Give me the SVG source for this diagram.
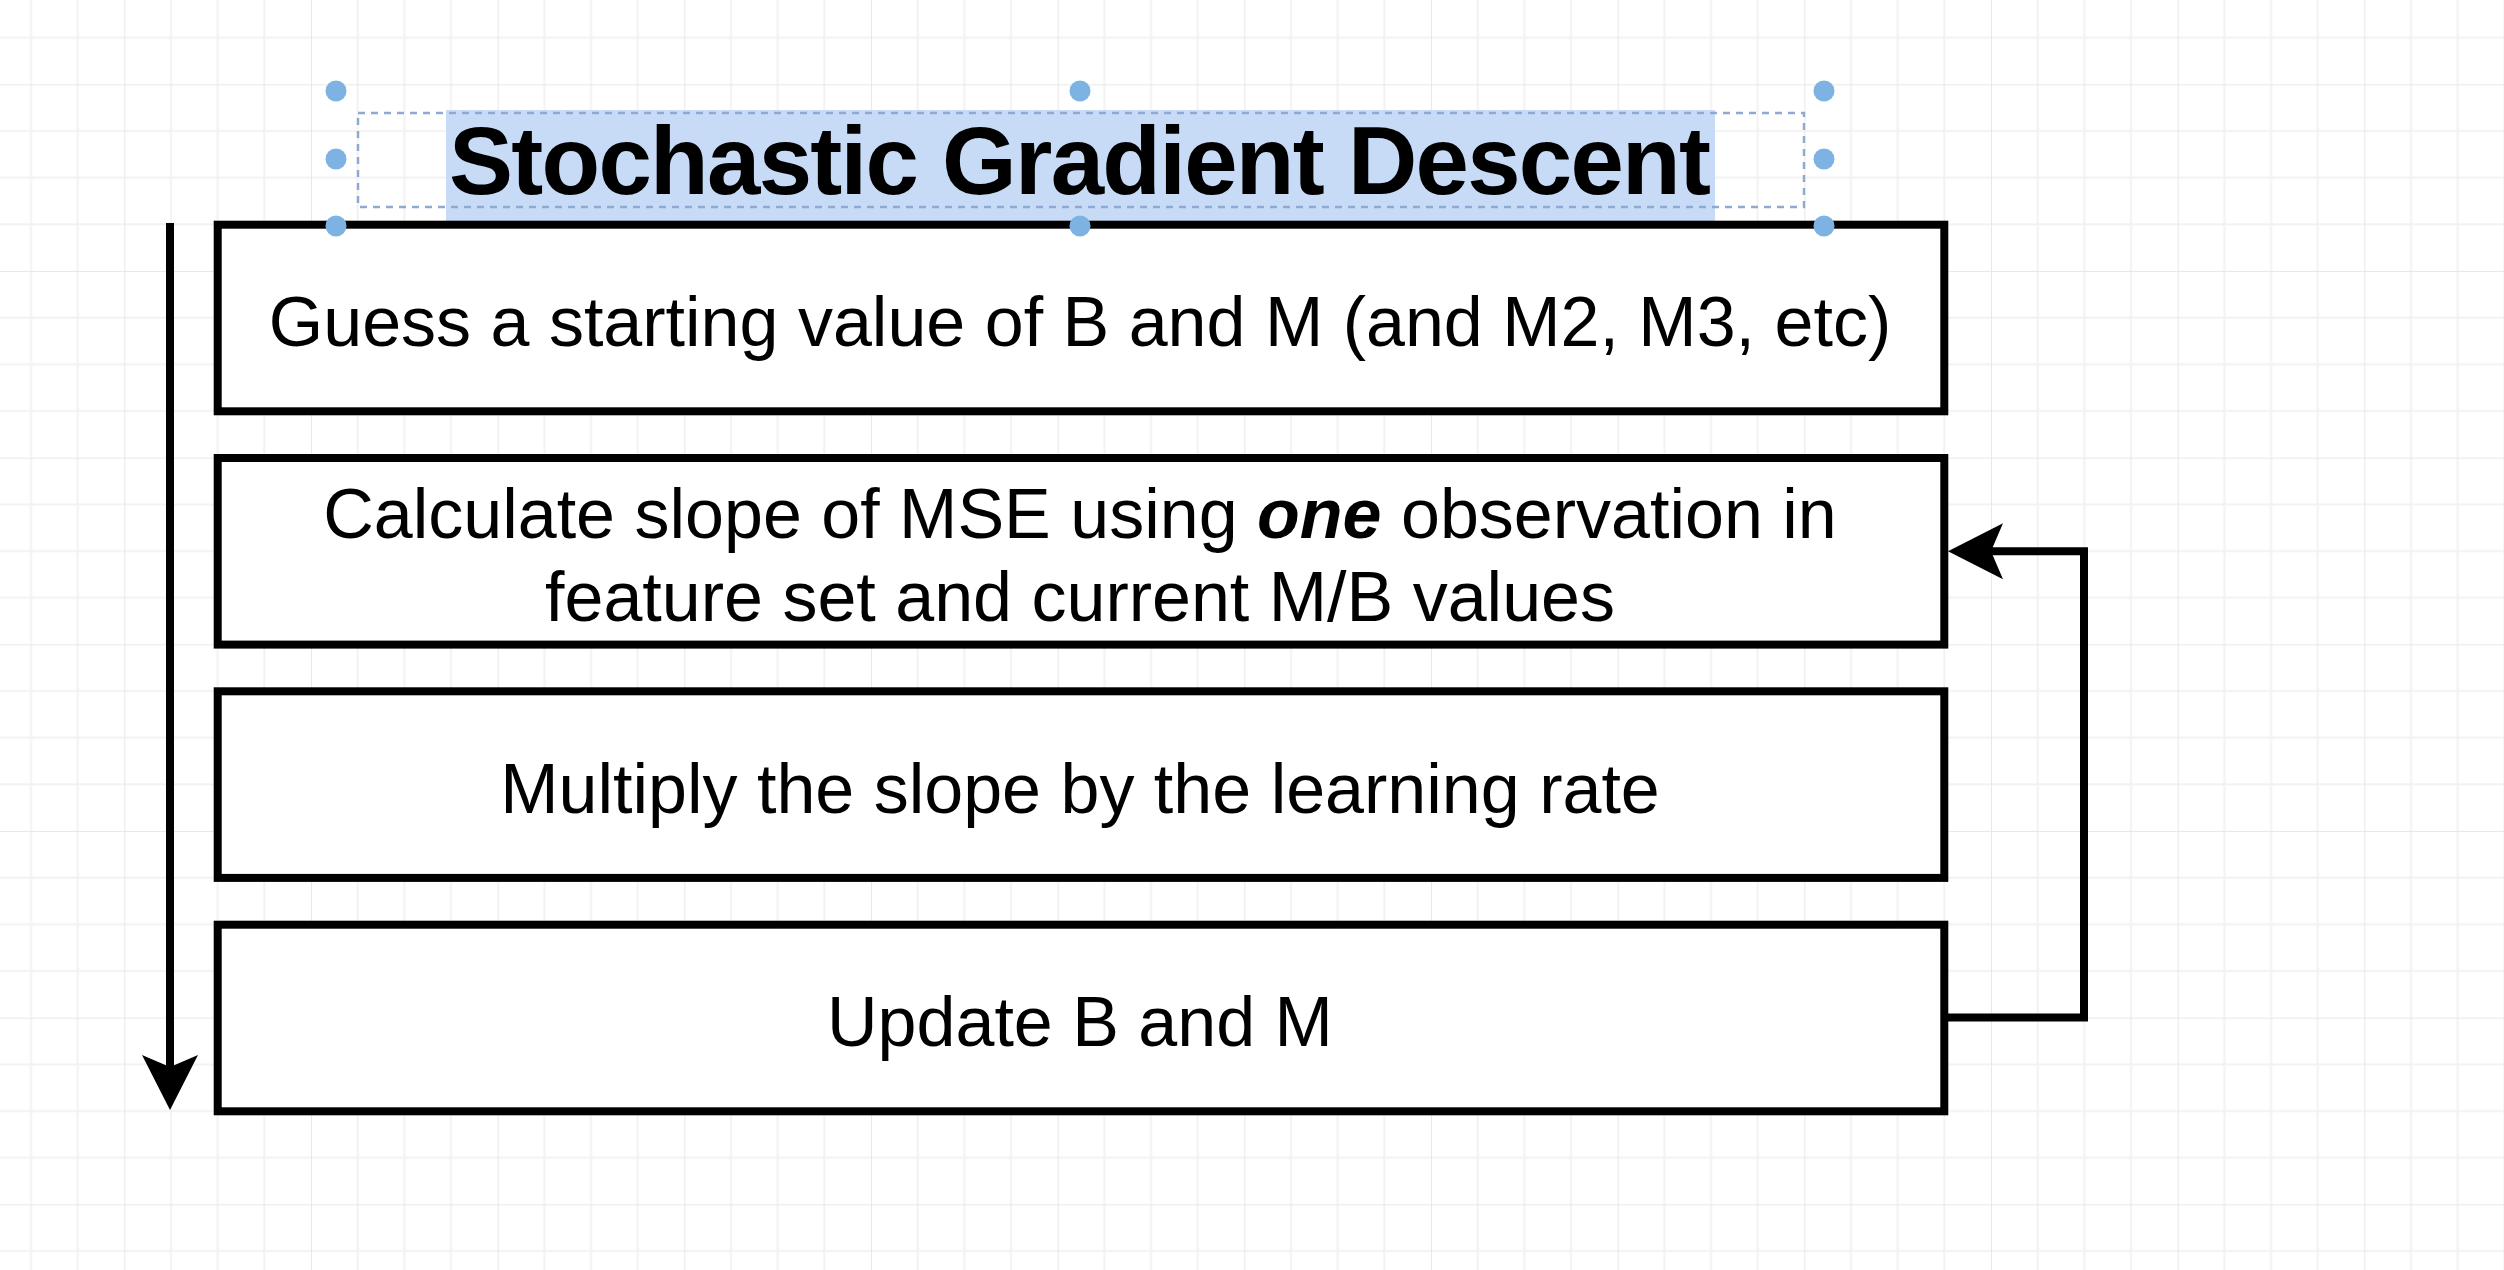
<svg xmlns="http://www.w3.org/2000/svg" width="2504" height="1270" viewBox="0 0 2504 1270">
<style>
.box{fill:#ffffff;stroke:#000000;stroke-width:8}
.lbl{font-family:"Liberation Sans",Arial,Helvetica,sans-serif;font-size:70px;fill:#000000;text-anchor:middle}
.title{font-family:"Liberation Sans",Arial,Helvetica,sans-serif;font-size:96px;font-weight:bold;fill:#000000;text-anchor:middle}
.conn{fill:none;stroke:#000000;stroke-width:8}
.handle{fill:#7db3e3}
.minor{stroke:#f2f2f2;stroke-width:2}
.major{stroke:#e8e8e8;stroke-width:2}
</style>
<defs>
<pattern id="grid" patternUnits="userSpaceOnUse" x="124.333" y="84.333" width="186.667" height="186.667">
<path class="minor" d="M46.667 0V186.667M93.333 0V186.667M140 0V186.667M0 46.667H186.667M0 93.333H186.667M0 140H186.667"/>
<path class="major" d="M0 0V186.667M0 0H186.667"/>
</pattern>
<marker id="arrow" markerUnits="userSpaceOnUse" viewBox="-56 -30 58 60" markerWidth="58" markerHeight="60" refX="-40" refY="0" orient="auto">
<path d="M0 0L-55 -28L-43 0L-55 28Z" fill="#000000"/>
</marker>
</defs>
<rect width="2504" height="1270" fill="#ffffff"/>
<rect width="2504" height="1270" fill="url(#grid)"/>

<g id="title">
<rect x="446" y="110" width="1269" height="112" fill="#c7dbf6"/>
<text class="title" x="1080" y="194" textLength="1262" lengthAdjust="spacing">Stochastic Gradient Descent</text>
<rect x="358" y="113" width="1446" height="94" fill="none" stroke="#8eaad3" stroke-width="2.5" stroke-dasharray="7 6"/>
</g>

<g id="box1">
<rect class="box" x="217.7" y="224.7" width="1726.6" height="186.6"/>
<text class="lbl" x="1080" y="346">Guess a starting value of B and M (and M2, M3, etc)</text>
</g>
<g id="box2">
<rect class="box" x="217.7" y="458" width="1726.6" height="186.6"/>
<text class="lbl" x="1080" y="538">Calculate slope of MSE using <tspan font-weight="bold" font-style="italic">one</tspan> observation in</text>
<text class="lbl" x="1080" y="621">feature set and current M/B values</text>
</g>
<g id="box3">
<rect class="box" x="217.7" y="691.3" width="1726.6" height="186.6"/>
<text class="lbl" x="1080" y="813">Multiply the slope by the learning rate</text>
</g>
<g id="box4">
<rect class="box" x="217.7" y="924.7" width="1726.6" height="186.6"/>
<text class="lbl" x="1080" y="1046">Update B and M</text>
</g>

<g id="connectors">
<path class="conn" d="M170 223V1070" marker-end="url(#arrow)"/>
<path class="conn" d="M1944 1017.5H2084V551.3H1988" marker-end="url(#arrow)"/>
</g>

<g id="handles">
<circle class="handle" cx="336" cy="91" r="10.5"/>
<circle class="handle" cx="1080" cy="91" r="10.5"/>
<circle class="handle" cx="1824" cy="91" r="10.5"/>
<circle class="handle" cx="336" cy="159" r="10.5"/>
<circle class="handle" cx="1824" cy="159" r="10.5"/>
<circle class="handle" cx="336" cy="226" r="10.5"/>
<circle class="handle" cx="1080" cy="226" r="10.5"/>
<circle class="handle" cx="1824" cy="226" r="10.5"/>
</g>
</svg>
